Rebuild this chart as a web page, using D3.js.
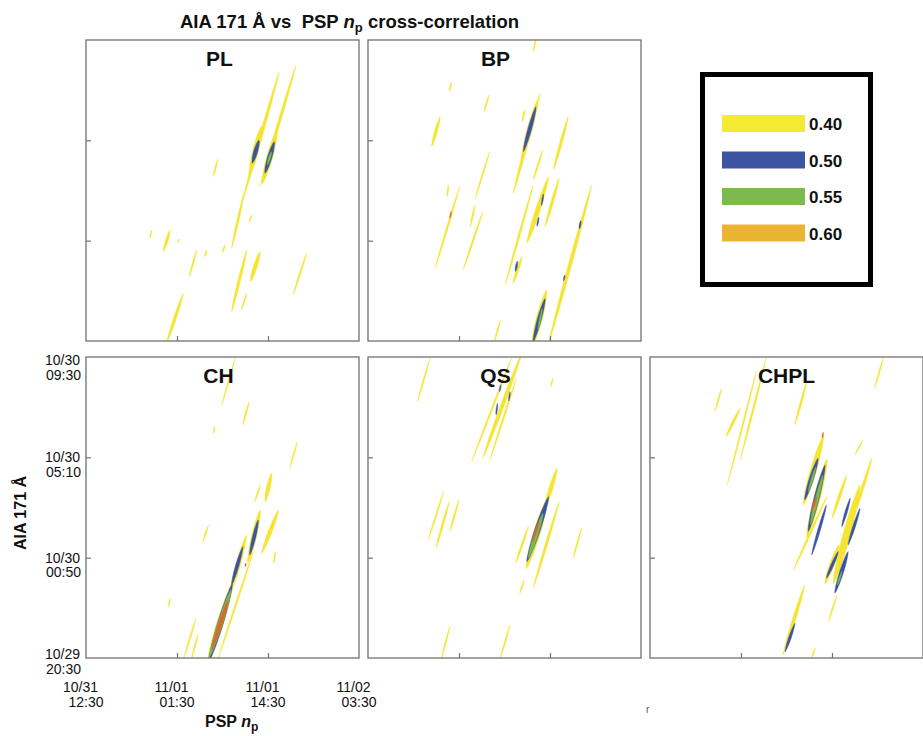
<!DOCTYPE html>
<html><head><meta charset="utf-8">
<script src="https://cdn.jsdelivr.net/npm/d3@7"></script>
<style>
body{margin:0;background:#fff}
svg{display:block}
text{font-family:"Liberation Sans",Arial,Helvetica,sans-serif;fill:#111}
</style>
</head><body>
<svg id="chart" width="923" height="736"></svg>
<script>
// ---------------- data ----------------
const panelNames = ["PL", "BP", "CH", "QS", "CHPL"];
const levelValues = [0.40, 0.50, 0.55, 0.60];
const legendLabels = ["0.40", "0.50", "0.55", "0.60"];
// x: PSP n_p time, hours after 10/31 12:30 ; y: AIA 171 time, hours after 10/29 20:30
const xTickHours = [0, 13, 26, 39];
const xTickLabels = [["10/31", "12:30"], ["11/01", "01:30"], ["11/01", "14:30"], ["11/02", "03:30"]];
const yTickHours = [0, 13 / 3, 26 / 3, 13];
const yTickLabels = [["10/29", "20:30"], ["10/30", "00:50"], ["10/30", "05:10"], ["10/30", "09:30"]];

// contour streaks: [x start (h), y start (h), x end (h), y end (h), half-width in lag (h), correlation level]
const streaksPL = [
  [20.8, 4.0, 22.6, 6.4, 0.16, 0.40],
  [22.4, 6.1, 27.6, 11.63, 0.22, 0.40],
  [23.3, 7.1, 25.1, 9.3, 0.42, 0.40],
  [23.76, 7.68, 24.71, 8.68, 0.3, 0.50],
  [24.86, 6.67, 30.0, 11.92, 0.2, 0.40],
  [25.2, 6.8, 27.3, 9.1, 0.45, 0.40],
  [25.57, 7.24, 26.9, 8.61, 0.33, 0.50],
  [25.9, 7.6, 26.5, 8.18, 0.15, 0.55],
  [18.2, 7.1, 18.8, 7.85, 0.1, 0.40],
  [9.14, 4.44, 9.38, 4.79, 0.08, 0.40],
  [11.05, 3.86, 12.0, 4.79, 0.2, 0.40],
  [13.15, 4.25, 13.25, 4.4, 0.08, 0.40],
  [14.76, 2.78, 15.8, 3.93, 0.12, 0.40],
  [17.0, 3.64, 17.24, 3.93, 0.1, 0.40],
  [19.5, 3.81, 19.86, 4.15, 0.1, 0.40],
  [23.3, 5.15, 23.7, 5.44, 0.08, 0.40],
  [20.8, 1.27, 22.96, 3.93, 0.2, 0.40],
  [22.2, 1.34, 22.96, 2.06, 0.1, 0.40],
  [23.5, 2.56, 24.86, 3.86, 0.3, 0.40],
  [29.6, 1.99, 31.5, 3.79, 0.12, 0.40],
  [11.5, -0.1, 13.9, 2.06, 0.22, 0.40]
];
const streaksBP = [
  [23.6, 12.5, 24.1, 13.2, 0.1, 0.40],
  [11.6, 10.77, 11.95, 11.2, 0.1, 0.40],
  [16.57, 9.9, 17.3, 10.63, 0.1, 0.40],
  [9.1, 8.39, 10.3, 9.69, 0.22, 0.40],
  [20.76, 6.38, 24.57, 10.7, 0.22, 0.40],
  [21.9, 7.8, 24.2, 10.4, 0.38, 0.40],
  [22.2, 8.18, 24.0, 10.12, 0.28, 0.50],
  [22.0, 9.47, 22.4, 9.98, 0.12, 0.40],
  [26.5, 7.39, 28.6, 9.69, 0.2, 0.40],
  [23.6, 6.95, 24.96, 8.25, 0.12, 0.40],
  [15.3, 6.16, 17.4, 8.18, 0.1, 0.40],
  [9.57, 3.14, 13.1, 6.67, 0.13, 0.40],
  [11.7, 5.3, 11.9, 5.6, 0.06, 0.60],
  [11.3, 6.23, 11.5, 6.74, 0.08, 0.40],
  [13.6, 3.07, 16.4, 5.59, 0.12, 0.40],
  [14.6, 4.94, 15.3, 5.87, 0.12, 0.40],
  [19.6, 2.42, 23.6, 6.74, 0.14, 0.40],
  [20.7, 2.49, 22.0, 3.64, 0.2, 0.40],
  [21.05, 3.0, 21.35, 3.45, 0.14, 0.50],
  [22.7, 4.22, 25.8, 7.1, 0.35, 0.40],
  [23.1, 4.5, 25.0, 6.4, 0.25, 0.40],
  [24.8, 5.85, 25.05, 6.35, 0.1, 0.50],
  [24.15, 4.95, 24.4, 5.35, 0.1, 0.50],
  [25.3, 4.94, 27.3, 7.03, 0.2, 0.40],
  [25.8, -0.1, 31.96, 6.74, 0.25, 0.40],
  [30.2, 4.85, 30.4, 5.2, 0.12, 0.50],
  [27.95, 2.6, 28.1, 2.85, 0.08, 0.50],
  [23.4, -0.3, 25.5, 2.2, 0.45, 0.40],
  [23.6, -0.03, 25.3, 1.84, 0.3, 0.50],
  [24.3, 0.5, 24.9, 1.4, 0.12, 0.55],
  [18.1, 0, 18.9, 0.9, 0.1, 0.40]
];
const streaksCH = [
  [17.3, -0.3, 21.0, 3.3, 0.5, 0.40],
  [20.5, 2.7, 22.9, 5.3, 0.35, 0.40],
  [17.5, -0.2, 20.9, 3.2, 0.42, 0.50],
  [20.8, 3.15, 22.4, 4.81, 0.25, 0.50],
  [17.6, 0, 20.7, 2.94, 0.36, 0.55],
  [17.96, 0.35, 20.3, 2.5, 0.26, 0.60],
  [23.1, 4.1, 24.9, 6.4, 0.38, 0.40],
  [23.4, 4.45, 24.6, 5.96, 0.25, 0.50],
  [18.9, 0, 23.9, 4.6, 0.12, 0.40],
  [22.75, 3.95, 22.85, 4.1, 0.06, 0.60],
  [25.1, 4.52, 27.5, 6.39, 0.3, 0.40],
  [26.8, 4.09, 27.1, 4.6, 0.1, 0.40],
  [24.1, 6.75, 24.9, 7.47, 0.1, 0.40],
  [25.6, 6.75, 26.5, 7.98, 0.28, 0.40],
  [29.1, 8.19, 30.2, 9.34, 0.08, 0.40],
  [16.7, 5.02, 17.5, 5.74, 0.1, 0.40],
  [11.8, 2.22, 12.0, 2.58, 0.08, 0.40],
  [14.0, 0, 15.7, 1.71, 0.1, 0.40],
  [15.1, 0, 16.0, 1.0, 0.1, 0.40],
  [22.4, 10.07, 23.3, 11.07, 0.12, 0.40],
  [18.2, 9.7, 18.4, 10.0, 0.06, 0.40],
  [19.4, 10.93, 21.3, 12.94, 0.08, 0.40]
];
const streaksQS = [
  [22.6, 3.85, 25.6, 6.9, 0.5, 0.40],
  [25.2, 6.4, 27.0, 8.2, 0.3, 0.40],
  [22.7, 4.16, 25.8, 6.97, 0.42, 0.50],
  [22.9, 4.31, 25.0, 6.25, 0.3, 0.55],
  [23.5, 5.02, 24.5, 5.96, 0.14, 0.60],
  [21.1, 4.09, 22.9, 5.67, 0.15, 0.40],
  [23.6, 3.01, 27.3, 6.75, 0.18, 0.40],
  [21.7, 2.8, 22.3, 3.37, 0.1, 0.40],
  [29.3, 4.31, 30.5, 5.6, 0.1, 0.40],
  [8.6, 5.1, 10.8, 7.18, 0.1, 0.40],
  [9.7, 4.74, 11.6, 6.75, 0.15, 0.40],
  [11.7, 5.46, 13.0, 6.83, 0.12, 0.40],
  [14.8, 8.48, 20.5, 12.95, 0.12, 0.40],
  [16.4, 8.63, 22.0, 13.2, 0.28, 0.40],
  [17.4, 8.55, 21.2, 12.08, 0.12, 0.40],
  [18.3, 10.5, 18.5, 11.0, 0.1, 0.50],
  [18.8, 11.5, 18.95, 11.8, 0.08, 0.50],
  [20.1, 11.1, 20.3, 11.5, 0.08, 0.50],
  [7.05, 11.07, 8.86, 12.95, 0.1, 0.40],
  [26.1, 11.72, 26.4, 12.08, 0.08, 0.40],
  [10.5, 0, 11.7, 1.37, 0.1, 0.40],
  [18.9, 0, 20.3, 1.43, 0.1, 0.40]
];
const streaksCHPL = [
  [11.04, 7.47, 15.2, 12.37, 0.1, 0.40],
  [12.9, 8.55, 16.6, 12.95, 0.12, 0.40],
  [10.86, 9.56, 12.86, 10.78, 0.2, 0.40],
  [9.29, 10.64, 10.24, 11.65, 0.1, 0.40],
  [20.7, 10.07, 22.4, 11.94, 0.15, 0.40],
  [32.1, 11.65, 33.3, 12.95, 0.1, 0.40],
  [21.9, 6.6, 24.8, 9.63, 0.45, 0.40],
  [22.1, 6.83, 24.0, 8.63, 0.32, 0.50],
  [22.6, 7.18, 23.7, 8.26, 0.15, 0.55],
  [24.6, 9.5, 24.75, 9.75, 0.06, 0.60],
  [22.4, 5.2, 25.3, 8.6, 0.48, 0.40],
  [22.6, 5.46, 25.0, 8.34, 0.38, 0.50],
  [22.9, 5.75, 24.7, 7.9, 0.25, 0.55],
  [23.1, 6.32, 23.8, 6.97, 0.15, 0.60],
  [20.5, 3.8, 25.3, 7.0, 0.15, 0.40],
  [23.1, 4.45, 25.2, 6.61, 0.2, 0.50],
  [26.0, 6.03, 28.1, 7.9, 0.2, 0.40],
  [26.2, 3.2, 30.0, 7.47, 0.55, 0.40],
  [25.0, 3.2, 27.0, 4.9, 0.35, 0.40],
  [26.4, 2.8, 28.3, 4.6, 0.3, 0.50],
  [26.76, 3.15, 27.4, 3.73, 0.12, 0.55],
  [25.2, 3.44, 26.9, 4.6, 0.22, 0.50],
  [27.4, 5.67, 28.6, 6.9, 0.18, 0.50],
  [28.3, 4.88, 30.0, 6.47, 0.2, 0.50],
  [29.0, 6.03, 31.7, 8.63, 0.2, 0.40],
  [29.3, 8.77, 30.4, 9.42, 0.1, 0.40],
  [19.0, 0.13, 22.1, 3.15, 0.25, 0.40],
  [19.3, 0.27, 20.7, 1.5, 0.2, 0.50],
  [23.1, 0, 23.6, 0.42, 0.1, 0.40],
  [25.5, 1.57, 26.7, 2.72, 0.1, 0.40]
];
const panelStreaks = [streaksPL, streaksBP, streaksCH, streaksQS, streaksCHPL];

// ---------------- layout & style ----------------
const plotColors = ["#f5e532", "#3b53a4", "#7dba53", "#e0662c"];
const legendColors = ["#f4e933", "#3c55a3", "#7cba50", "#ebb332"];
const PW = 273, PH = 301;
const panelPos = [[86, 40], [368, 40], [86, 357], [368, 357], [650, 357]];
const labelDx = [-3, -9, -4, -9, 0];
const yLabelDy = [1, 5, 5, 8];
const tickFont = 14, tickPitch = 14.5;

const svg = d3.select("#chart");
const levelColor = d3.scaleOrdinal().domain(levelValues).range(plotColors);
const defs = svg.append("defs");

function streakPath(s, x, y) {
  const p1 = [x(s[0]), y(s[1])], p2 = [x(s[2]), y(s[3])];
  let dx = p2[0] - p1[0], dy = p2[1] - p1[1];
  let L = Math.hypot(dx, dy);
  if (L < 3) { // extend tiny marks along the dominant direction
    const ang = Math.atan2(-3.2, 1);
    const cx = (p1[0] + p2[0]) / 2, cy = (p1[1] + p2[1]) / 2;
    dx = 3 * Math.cos(ang); dy = 3 * Math.sin(ang);
    p1[0] = cx - dx / 2; p1[1] = cy - dy / 2; L = 3;
  }
  const ux = dx / L, uy = dy / L, nx = -uy, ny = ux;
  const hx = x(s[4]) - x(0);
  const hp = Math.max(0.6, hx * Math.abs(uy));
  const N = 30, left = [], right = [];
  for (let i = 0; i <= N; i++) {
    const t = i / N;
    const w = hp * Math.pow(Math.sin(Math.PI * t), 0.6);
    const cx = p1[0] + dx * t, cy = p1[1] + dy * t;
    left.push([cx + nx * w, cy + ny * w]);
    right.push([cx - nx * w, cy - ny * w]);
  }
  return d3.line()(left.concat(right.reverse())) + "Z";
}

panelNames.forEach((name, i) => {
  const [px, py] = panelPos[i];
  const x = d3.scaleLinear().domain([0, 39]).range([px, px + PW]);
  const y = d3.scaleLinear().domain([0, 13]).range([py + PH, py]);
  defs.append("clipPath").attr("id", "clip" + i)
    .append("rect").attr("x", px).attr("y", py).attr("width", PW).attr("height", PH);
  const g = svg.append("g");
  const data = panelStreaks[i].slice().sort((a, b) => a[5] - b[5]);
  g.append("g").attr("clip-path", `url(#clip${i})`)
    .selectAll("path").data(data).join("path")
    .attr("d", d => streakPath(d, x, y))
    .attr("fill", d => levelColor(d[5]))
    .attr("stroke", d => levelColor(d[5]))
    .attr("stroke-width", 0.4);

  // frame
  g.append("rect").attr("x", px).attr("y", py).attr("width", PW).attr("height", PH)
    .attr("fill", "none").attr("stroke", "#707070").attr("stroke-width", 1.3);

  // inward ticks
  const xa = d3.axisBottom(x).tickValues(xTickHours.slice(1, 3)).tickSizeInner(-5).tickSizeOuter(0).tickFormat("");
  const ya = d3.axisLeft(y).tickValues(yTickHours.slice(1, 3)).tickSizeInner(-5).tickSizeOuter(0).tickFormat("");
  const gx = g.append("g").attr("transform", `translate(0,${py + PH})`).call(xa);
  const gy = g.append("g").attr("transform", `translate(${px},0)`).call(ya);
  [gx, gy].forEach(a => {
    a.select(".domain").remove();
    a.selectAll("line").attr("stroke", "#707070").attr("stroke-width", 1.2);
  });

  // panel name
  g.append("text").attr("x", px + PW / 2 + labelDx[i]).attr("y", py + 25.5)
    .attr("text-anchor", "middle").attr("font-weight", "bold").attr("font-size", 21)
    .text(name);

  if (name === "CH") {
    xTickHours.forEach((h, k) => {
      const t = g.append("text").attr("font-size", tickFont).attr("text-anchor", "middle");
      t.append("tspan").attr("x", x(h) - 5.5).attr("y", 692).text(xTickLabels[k][0]);
      t.append("tspan").attr("x", x(h)).attr("y", 692 + tickPitch).text(xTickLabels[k][1]);
    });
    yTickHours.forEach((h, k) => {
      const t = g.append("text").attr("font-size", tickFont).attr("text-anchor", "end");
      t.append("tspan").attr("x", 80).attr("y", y(h) + yLabelDy[k]).text(yTickLabels[k][0]);
      t.append("tspan").attr("x", 81).attr("y", y(h) + yLabelDy[k] + tickPitch).text(yTickLabels[k][1]);
    });
  }
});

// title
const title = svg.append("text").attr("x", 180).attr("y", 28)
  .attr("font-weight", "bold").attr("font-size", 18.5).style("white-space", "pre");
title.append("tspan").text("AIA 171 Å vs  PSP ");
title.append("tspan").attr("font-style", "italic").text("n");
title.append("tspan").attr("font-size", 13).attr("dy", 4).text("p");
title.append("tspan").attr("dy", -4).text(" cross-correlation");

// x-axis title
const xt = svg.append("text").attr("x", 205).attr("y", 727).attr("font-weight", "bold").attr("font-size", 16)
  .style("white-space", "pre");
xt.append("tspan").text("PSP ");
xt.append("tspan").attr("font-style", "italic").text("n");
xt.append("tspan").attr("font-size", 12).attr("dy", 4).text("p");

// y-axis title
svg.append("text").attr("transform", "translate(26,513) rotate(-90)")
  .attr("text-anchor", "middle").attr("font-weight", "bold").attr("font-size", 16)
  .text("AIA 171 Å");

// legend
const lg = svg.append("g");
lg.append("rect").attr("x", 702.5).attr("y", 74.5).attr("width", 168).attr("height", 210)
  .attr("fill", "none").attr("stroke", "#000").attr("stroke-width", 5);
levelValues.forEach((v, k) => {
  const yy = 115 + k * 36.5;
  lg.append("rect").attr("x", 722).attr("y", yy).attr("width", 83).attr("height", 17)
    .attr("fill", legendColors[k]);
  lg.append("text").attr("x", 809).attr("y", yy + 15).attr("font-weight", "bold").attr("font-size", 17)
    .text(legendLabels[k]);
});

// stray mark from the original figure
svg.append("text").attr("x", 646).attr("y", 713).attr("font-size", 10).style("fill", "#555").text("r");
</script>
</body></html>
